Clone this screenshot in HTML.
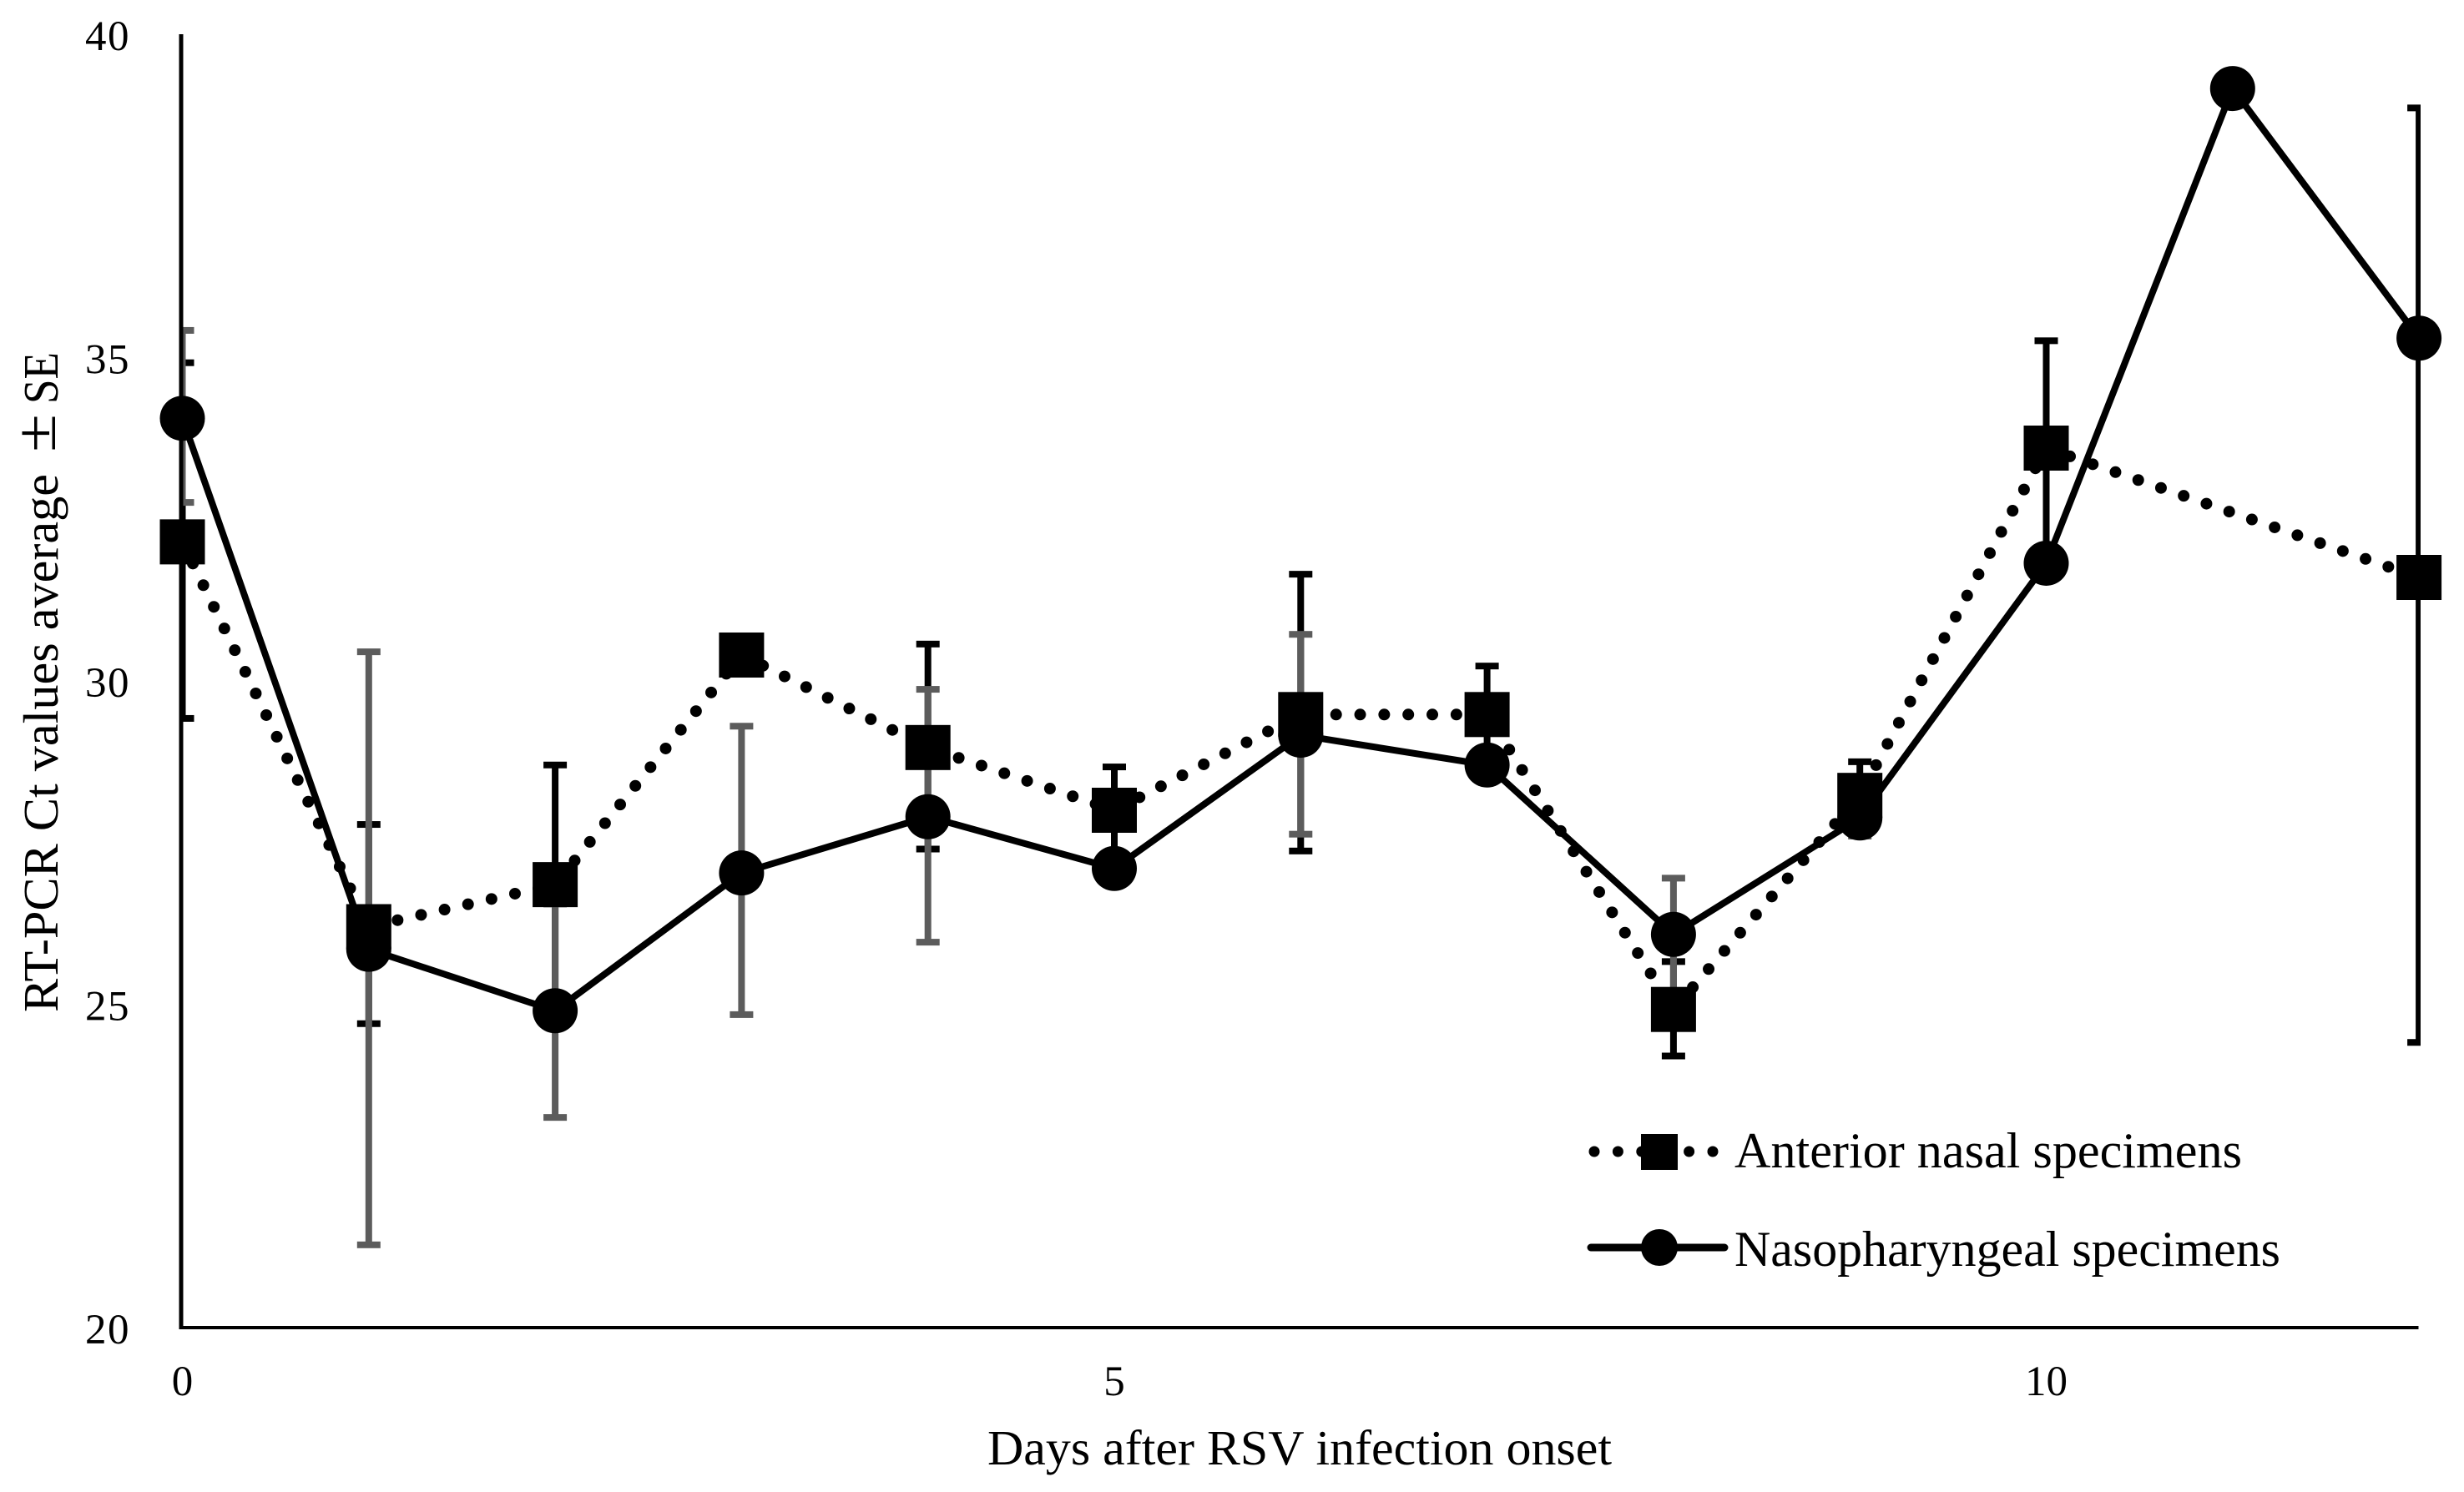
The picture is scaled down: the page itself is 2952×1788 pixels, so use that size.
<!DOCTYPE html>
<html lang="en">
<head>
<meta charset="utf-8">
<title>RT-PCR Ct values by days after RSV infection onset</title>
<style>
html,body{margin:0;padding:0;background:#fff;}
svg{display:block;}
text{font-family:"Liberation Serif",serif;fill:#000;}
</style>
</head>
<body>
<svg id="chart" xmlns="http://www.w3.org/2000/svg" width="2952" height="1788" viewBox="0 0 2952 1788">
  <defs>
    <clipPath id="plot-clip"><rect x="217" y="0" width="2683" height="1788"></rect></clipPath>
  </defs>
  <rect x="0" y="0" width="2952" height="1788" fill="#ffffff"></rect>
  <g id="error-bars" clip-path="url(#plot-clip)"></g>
  <g id="lines" clip-path="url(#plot-clip)"></g>
  <rect x="214.5" y="41" width="5" height="1552" fill="#000"></rect>
  <rect x="214.5" y="1589" width="2683" height="4" fill="#000"></rect>
  <g id="markers"></g>
  <g id="y-ticks"></g>
  <g id="x-ticks"></g>

  <g>
    <text x="0" y="0" transform="translate(69 1213) rotate(-90)" font-size="59" textLength="645" lengthAdjust="spacingAndGlyphs">RT-PCR Ct values average</text>
    <text x="0" y="0" transform="translate(66 542) rotate(-90)" font-size="70" textLength="46" lengthAdjust="spacingAndGlyphs">&#177;</text>
    <text x="0" y="0" transform="translate(69 484) rotate(-90)" font-size="59" textLength="62" lengthAdjust="spacingAndGlyphs">SE</text>
  </g>
  <text x="1183" y="1755" font-size="59" textLength="748" lengthAdjust="spacingAndGlyphs">Days after RSV infection onset</text>

  <g>
    <g>
      <line x1="1910" y1="1380" x2="2056" y2="1380" stroke="#000" stroke-width="13" stroke-linecap="round" stroke-dasharray="0 28.4"></line>
      <rect x="1966" y="1359" width="44" height="43" fill="#000"></rect>
      <text x="2078" y="1399" font-size="60" textLength="608" lengthAdjust="spacingAndGlyphs">Anterior nasal specimens</text>
    </g>
    <g>
      <line x1="1906" y1="1495" x2="2066" y2="1495" stroke="#000" stroke-width="9" stroke-linecap="round"></line>
      <circle cx="1988" cy="1495" r="22" fill="#000"></circle>
      <text x="2078" y="1517" font-size="60" textLength="654" lengthAdjust="spacingAndGlyphs">Nasopharyngeal specimens</text>
    </g>
  </g>
</svg>

<script>
const days = [0, 1, 2, 3, 4, 5, 6, 7, 8, 9, 10, 11, 12];
const nasalMean = [32.15, 26.2, 26.85, 30.4, 28.97, 28.0, 29.48, 29.48, 24.92, 28.23, 33.6, null, 31.6];
const nasalUpper = [34.92, 27.78, 28.7, 30.6, 30.57, 28.67, 31.65, 30.23, 25.66, 28.75, 35.26, null, 38.86];
const nasalLower = [29.42, 24.7, 25.0, 30.2, 27.4, 27.33, 27.37, 28.73, 24.2, 27.7, 31.94, null, 24.41];
const nasoMean = [34.06, 25.85, 24.9, 27.03, 27.9, 27.1, 29.16, 28.7, 26.08, 27.88, 31.82, 39.16, 35.3];
const nasoUpper = [35.42, 30.45, 26.55, 29.3, 29.87, 27.3, 30.72, 28.9, 26.95, 28.1, 32.0, null, null];
const nasoLower = [32.76, 21.28, 23.25, 24.84, 25.96, 26.9, 27.63, 28.5, 25.1, 27.6, 31.6, null, null];
const yTickLabels = [20, 25, 30, 35, 40];
const xTickLabels = [0, 5, 10];

const SVG_NS = 'http://www.w3.org/2000/svg';
function xScale(d) { return 218.5 + 223.3 * d; }
function yScale(v) { return 1591 - (v - 20) * 77.5; }
function make(tag, attrs, parent) {
  const el = document.createElementNS(SVG_NS, tag);
  for (const k in attrs) el.setAttribute(k, attrs[k]);
  parent.appendChild(el);
  return el;
}

const barsG = document.getElementById('error-bars');
const linesG = document.getElementById('lines');
const markersG = document.getElementById('markers');
const yTicksG = document.getElementById('y-ticks');
const xTicksG = document.getElementById('x-ticks');

function drawBars(upper, lower, color, seriesName) {
  days.forEach(function (d, i) {
    if (upper[i] === null || lower[i] === null) return;
    const x = xScale(d);
    const yu = yScale(upper[i]);
    const yl = yScale(lower[i]);
    const g = make('g', { fill: color }, barsG);
    
    
    make('rect', { x: x - 4, y: yu, width: 8, height: yl - yu }, g);
    make('rect', { x: x - 14, y: yu - 4, width: 28, height: 8 }, g);
    make('rect', { x: x - 14, y: yl - 4, width: 28, height: 8 }, g);
  });
}
drawBars(nasalUpper, nasalLower, '#000000', 'nasal');
drawBars(nasoUpper, nasoLower, '#5c5c5c', 'nasopharyngeal');

function linePoints(values) {
  const pts = [];
  days.forEach(function (d, i) {
    if (values[i] !== null) pts.push(xScale(d) + ',' + yScale(values[i]));
  });
  return pts.join(' ');
}

const nasalLine = make('polyline', {
  points: linePoints(nasalMean), fill: 'none', stroke: '#000',
  'stroke-width': 14, 'stroke-linecap': 'round', 'stroke-dasharray': '0 28.83'
}, linesG);



const nasoLine = make('polyline', {
  points: linePoints(nasoMean), fill: 'none', stroke: '#000',
  'stroke-width': 8, 'stroke-linejoin': 'round'
}, linesG);



days.forEach(function (d, i) {
  if (nasalMean[i] === null) return;
  const sq = make('rect', {
    x: xScale(d) - 27, y: yScale(nasalMean[i]) - 27, width: 54, height: 54, fill: '#000'
  }, markersG);
  
  
});
days.forEach(function (d, i) {
  if (nasoMean[i] === null) return;
  const c = make('circle', {
    cx: xScale(d), cy: yScale(nasoMean[i]), r: 27, fill: '#000'
  }, markersG);
  
  
});

yTickLabels.forEach(function (v) {
  const t = make('text', {
    x: 156, y: yScale(v) + 19, 'font-size': 51, 'text-anchor': 'end', 'letter-spacing': 1.5
  }, yTicksG);
  
  
  t.textContent = String(v);
});
xTickLabels.forEach(function (v) {
  const t = make('text', {
    x: xScale(v), y: 1672, 'font-size': 51, 'text-anchor': 'middle'
  }, xTicksG);
  
  
  t.textContent = String(v);
});
</script>
</body>
</html>
